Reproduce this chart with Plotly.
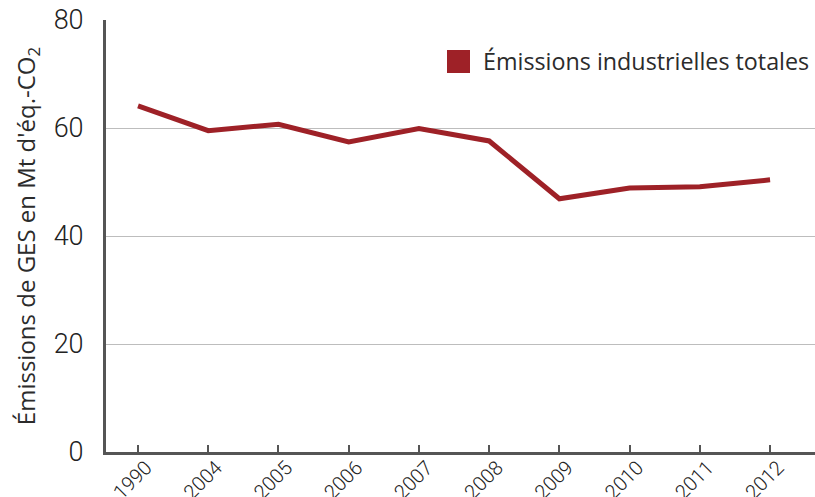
import plotly.graph_objects as go

# Émissions industrielles totales de GES (Mt d'éq.-CO2)
years = ["1990", "2004", "2005", "2006", "2007", "2008", "2009", "2010", "2011", "2012"]
emissions = [64.1, 59.5, 60.7, 57.4, 59.9, 57.6, 46.9, 48.9, 49.1, 50.4]
y_ticks = [0, 20, 40, 60, 80]
series_name = "Émissions industrielles totales"

RED = "#9e2127"
AXIS = "#555555"
TEXT = "#2b2b2b"
FONT = "Open Sans"
THIN = "Roboto"

fig = go.Figure()
fig.add_trace(go.Scatter(
    x=years, y=emissions, mode="lines", name=series_name,
    line=dict(color=RED, width=5), showlegend=False,
))

fig.update_layout(
    width=815, height=497,
    margin=dict(l=106, r=0, t=20, b=45),
    paper_bgcolor="white", plot_bgcolor="white",
    font=dict(family=FONT, color=TEXT),
    xaxis=dict(
        type="category", range=[-0.456, 9.64], automargin=False,
        showline=True, linecolor=AXIS, linewidth=3,
        ticks="inside", ticklen=7, tickwidth=2, tickcolor=AXIS,
        tickangle=-45, ticklabelstandoff=-7, ticklabelshift=8,
        tickfont=dict(size=20, family=THIN, weight=300, color="#222222"),
        showgrid=False, zeroline=False,
    ),
    yaxis=dict(
        range=[0, 80], tickvals=y_ticks, automargin=False,
        showline=True, linecolor=AXIS, linewidth=3,
        showgrid=True, gridcolor="#bdbdbd", gridwidth=1,
        zeroline=False, ticks="", ticklabelstandoff=14,
        tickfont=dict(size=27, family=THIN, weight=300, color="#222222"),
        title=dict(text="Émissions de GES en Mt d'éq.-CO<sub>2</sub>",
                   font=dict(size=24, family=FONT, color=TEXT), standoff=12),
    ),
)

# Legend entry: colour swatch and label
fig.add_shape(type="rect", xref="paper", yref="paper",
              x0=(447 - 106) / 709, x1=(470 - 106) / 709,
              y0=(452 - 73) / 432, y1=(452 - 50) / 432,
              fillcolor=RED, line=dict(width=0))
fig.add_annotation(xref="paper", yref="paper",
                   x=(481 - 106) / 709, y=(452 - 61.5) / 432,
                   xanchor="left", yanchor="middle", showarrow=False,
                   text=series_name, font=dict(size=23.3, family=FONT, color=TEXT))

fig.write_html("out.html")
